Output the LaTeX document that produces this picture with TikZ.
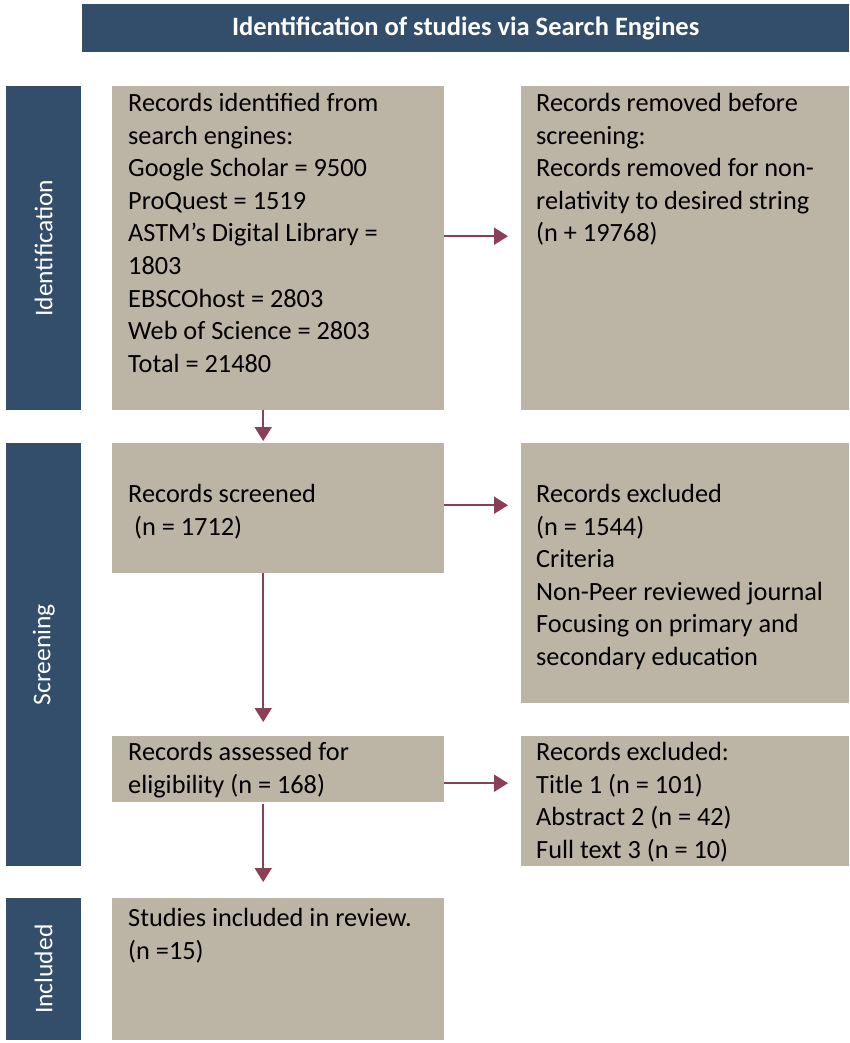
\documentclass[tikz,border=0pt]{standalone}
\usepackage{fontspec}
\setmainfont{Carlito}
\usetikzlibrary{arrows.meta}
\definecolor{navy}{HTML}{334E6B}
\definecolor{beige}{HTML}{BCB4A5}
\definecolor{arrowred}{HTML}{8A3F56}
\tikzset{
  box/.style={fill=beige, draw=none, inner sep=0pt, anchor=north west},
  side/.style={fill=navy, draw=none, inner sep=0pt, anchor=north west, minimum width=75pt},
  sidetxt/.style={text=white, rotate=90, font=\fontsize{25.5}{30}\selectfont, inner sep=0pt},
  txt/.style={anchor=north west, inner sep=0pt, align=left, font=\fontsize{26.3}{32.6}\selectfont, text=black},
  arr/.style={draw=arrowred, line width=2pt, -{Triangle[length=14pt,width=17pt]}},
}
\begin{document}
\begin{tikzpicture}[x=1pt,y=-1pt]
\useasboundingbox (0,0) rectangle (849,1043);
% header
\node[fill=navy, inner sep=0pt, anchor=north west, minimum width=767pt, minimum height=48pt,
  text=white, font=\fontsize{26.5}{30}\selectfont\bfseries] (head) at (82,4) {Identification of studies via Search Engines};
% side bars
\node[side, minimum height=324pt] (s1) at (6,86) {};
\node[sidetxt] (s1t) at (s1.center) {Identification};
\node[side, minimum height=423pt] (s2) at (6,443) {};
\node[sidetxt] (s2t) at (s2.center) {Screening};
\node[side, minimum height=142pt] (s3) at (6,898) {};
\node[sidetxt] (s3t) at (s3.center) {Included};
% boxes
\node[box, minimum width=332pt, minimum height=324pt] (b1) at (112,86) {};
\node[box, minimum width=328pt, minimum height=324pt] (b2) at (521,86) {};
\node[box, minimum width=332pt, minimum height=130pt] (b3) at (112,443) {};
\node[box, minimum width=328pt, minimum height=260pt] (b4) at (521,443) {};
\node[box, minimum width=332pt, minimum height=66pt] (b5) at (112,736) {};
\node[box, minimum width=328pt, minimum height=130pt] (b6) at (521,736) {};
\node[box, minimum width=332pt, minimum height=142pt] (b7) at (112,898) {};
% texts
\node[txt] (t1) at (128,93) {Records identified from\\search engines:\\Google Scholar = 9500\\ProQuest = 1519\\ASTM’s Digital Library =\\1803\\EBSCOhost = 2803\\Web of Science = 2803\\Total = 21480};
\node[txt] (t2) at (536,93) {Records removed before\\screening:\\Records removed for non-\\relativity to desired string\\(n + 19768)};
\node[txt] (t3) at (128,484) {Records screened\\\ (n = 1712)};
\node[txt] (t4) at (536,484) {Records excluded\\(n = 1544)\\Criteria\\Non-Peer reviewed journal\\Focusing on primary and\\secondary education};
\node[txt] (t5) at (128,742) {Records assessed for\\eligibility (n = 168)};
\node[txt] (t6) at (536,742) {Records excluded:\\Title 1 (n = 101)\\Abstract 2 (n = 42)\\Full text 3 (n = 10)};
\node[txt] (t7) at (128,908) {Studies included in review.\\(n =15)};
% arrows
\draw[arr, shorten >=13pt] ([yshift=12pt]b1.east) -- ([yshift=12pt]b1.east -| b2.west);
\draw[arr, shorten >=13pt] ([yshift=3pt]b3.east) -- ([yshift=3pt]b3.east -| b4.west);
\draw[arr, shorten >=13pt] ([yshift=-14pt]b5.east) -- ([yshift=-14pt]b5.east -| b6.west);
\draw[arr, shorten >=2pt] ([xshift=-15pt]b1.south) -- ([xshift=-15pt]b1.south |- b3.north);
\draw[arr, shorten >=14pt] ([xshift=-15pt]b3.south) -- ([xshift=-15pt]b3.south |- b5.north);
\draw[arr, shorten <=2pt, shorten >=16pt] ([xshift=-15pt]b5.south) -- ([xshift=-15pt]b5.south |- b7.north);
\end{tikzpicture}
\end{document}
